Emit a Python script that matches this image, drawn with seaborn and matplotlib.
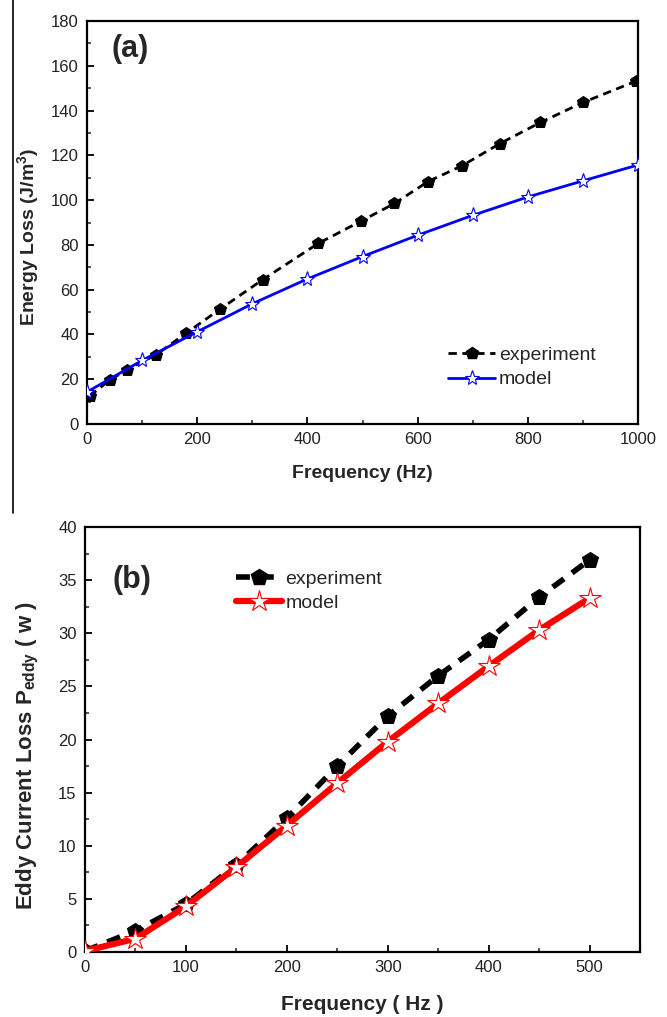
import matplotlib
matplotlib.use("Agg")
import matplotlib.pyplot as plt
from matplotlib.lines import Line2D
from matplotlib.ticker import MultipleLocator
import seaborn as sns
import pandas as pd

# ---- Panel (a) data ----
a_exp_freq = [5, 41, 73, 126, 180, 241, 319, 420, 498, 558, 619, 681, 749, 823, 900, 997]
a_exp_loss = [12.5, 19.6, 24.3, 31.0, 40.6, 51.2, 64.5, 80.7, 90.7, 98.5, 108.3, 115.4, 125.2, 134.7, 143.6, 153.2]
a_mod_freq = [0, 100, 200, 300, 400, 500, 600, 700, 800, 900, 1000]
a_mod_loss = [14.3, 28.4, 41.2, 53.7, 64.8, 74.8, 84.3, 93.2, 101.4, 108.6, 115.7]

# ---- Panel (b) data ----
b_freq = [0, 50, 100, 150, 200, 250, 300, 350, 400, 450, 500]
b_exp_loss = [0.1, 2.0, 4.5, 8.2, 12.6, 17.5, 22.2, 26.0, 29.4, 33.4, 36.9]
b_mod_loss = [0.1, 1.25, 4.3, 8.0, 11.9, 15.9, 19.8, 23.4, 26.9, 30.3, 33.3]

sns.set_style("ticks")
plt.rcParams['font.family'] = ['Liberation Sans', 'DejaVu Sans']
plt.rcParams['mathtext.fontset'] = 'custom'
plt.rcParams['mathtext.bf'] = 'Liberation Sans:bold'
plt.rcParams['mathtext.rm'] = 'Liberation Sans:bold'
plt.rcParams['mathtext.it'] = 'Liberation Sans:bold'

W, H = 667, 1017
fig = plt.figure(figsize=(W / 100, H / 100), dpi=100)

ax1 = fig.add_axes([87 / W, 1 - 424 / H, 551 / W, 403 / H])
ax2 = fig.add_axes([85 / W, 1 - 952 / H, 555 / W, 425 / H])

df_a_exp = pd.DataFrame({"f": a_exp_freq, "E": a_exp_loss})
df_a_mod = pd.DataFrame({"f": a_mod_freq, "E": a_mod_loss})
df_b = pd.DataFrame({"f": b_freq, "exp": b_exp_loss, "mod": b_mod_loss})

# Panel (a)
sns.lineplot(data=df_a_exp, x="f", y="E", ax=ax1, color="black", linewidth=2,
             linestyle=(0, (3, 2)), marker="p", markersize=9, markerfacecolor="black",
             markeredgecolor="black", sort=False, zorder=3)
sns.lineplot(data=df_a_mod, x="f", y="E", ax=ax1, color="#0000ff", linewidth=2,
             marker="*", markersize=11, markerfacecolor="white", markeredgecolor="#0000ff",
             markeredgewidth=0.8, sort=False, zorder=4)
ax1.set_xlim(0, 1000)
ax1.set_ylim(0, 180)
ax1.xaxis.set_major_locator(MultipleLocator(200))
ax1.xaxis.set_minor_locator(MultipleLocator(100))
ax1.yaxis.set_major_locator(MultipleLocator(20))
ax1.yaxis.set_minor_locator(MultipleLocator(10))
ax1.set_xlabel("Frequency (Hz)", fontsize=14, fontweight="bold", labelpad=13)
ax1.set_ylabel(r"Energy Loss (J/m$^3$)", fontsize=14, fontweight="bold")
ax1.yaxis.set_label_coords(-0.083, 0.465)
ax1.text(0.045, 0.93, "(a)", transform=ax1.transAxes, fontsize=22, fontweight="bold",
         ha="left", va="center")
h1 = [Line2D([], [], color="black", lw=2, linestyle=(0, (3, 2)), marker="p", markersize=9,
             markerfacecolor="black"),
      Line2D([], [], color="#0000ff", lw=2, marker="*", markersize=11,
             markerfacecolor="white", markeredgecolor="#0000ff", markeredgewidth=0.8)]
ax1.legend(h1, ["experiment", "model"], loc="lower right", bbox_to_anchor=(0.955, 0.045),
           frameon=False, fontsize=14, handlelength=2.4, handletextpad=0.2, labelspacing=0.35)

# Panel (b)
sns.lineplot(data=df_b, x="f", y="exp", ax=ax2, color="black", linewidth=4,
             linestyle=(0, (2.5, 1.8)), marker="p", markersize=12, markerfacecolor="black",
             markeredgecolor="black", sort=False, zorder=3)
sns.lineplot(data=df_b, x="f", y="mod", ax=ax2, color="#ff0000", linewidth=4.5,
             marker="*", markersize=16, markerfacecolor="white", markeredgecolor="#ff0000",
             markeredgewidth=0.8, sort=False, zorder=4)
ax2.set_xlim(0, 550)
ax2.set_ylim(0, 40)
ax2.xaxis.set_major_locator(MultipleLocator(100))
ax2.xaxis.set_minor_locator(MultipleLocator(50))
ax2.yaxis.set_major_locator(MultipleLocator(5))
ax2.yaxis.set_minor_locator(MultipleLocator(2.5))
ax2.set_xlabel("Frequency ( Hz )", fontsize=15, fontweight="bold", labelpad=14)
ax2.set_ylabel(r"Eddy Current Loss P$_{eddy}$ ( w )", fontsize=16, fontweight="bold")
ax2.yaxis.set_label_coords(-0.079, 0.462)
ax2.text(0.05, 0.875, "(b)", transform=ax2.transAxes, fontsize=22, fontweight="bold",
         ha="left", va="center")
h2 = [Line2D([], [], color="black", lw=4, linestyle=(0, (2.5, 1.8)), marker="p", markersize=12,
             markerfacecolor="black"),
      Line2D([], [], color="#ff0000", lw=4.5, marker="*", markersize=16,
             markerfacecolor="white", markeredgecolor="#ff0000", markeredgewidth=0.8)]
ax2.legend(h2, ["experiment", "model"], loc="upper left", bbox_to_anchor=(0.24, 0.94),
           frameon=False, fontsize=14, handlelength=2.4, handletextpad=0.15, labelspacing=0.35)

for ax in (ax1, ax2):
    for s in ax.spines.values():
        s.set_linewidth(1.6)
        s.set_color("black")
    ax.tick_params(which="major", direction="in", length=5, width=1.3, labelsize=12,
                   top=False, right=False, pad=6, colors="black")
    ax.tick_params(which="minor", direction="in", length=3, width=1.1, top=False, right=False)
    for lab in ax.get_xticklabels() + ax.get_yticklabels():
        lab.set_color("#222222")

# left border artifact line from the source scan
fig.add_artist(Line2D([13 / W, 13 / W], [1.0, 1 - 513 / H], color="black", lw=1.2))

fig.savefig("out.png", dpi=100)
